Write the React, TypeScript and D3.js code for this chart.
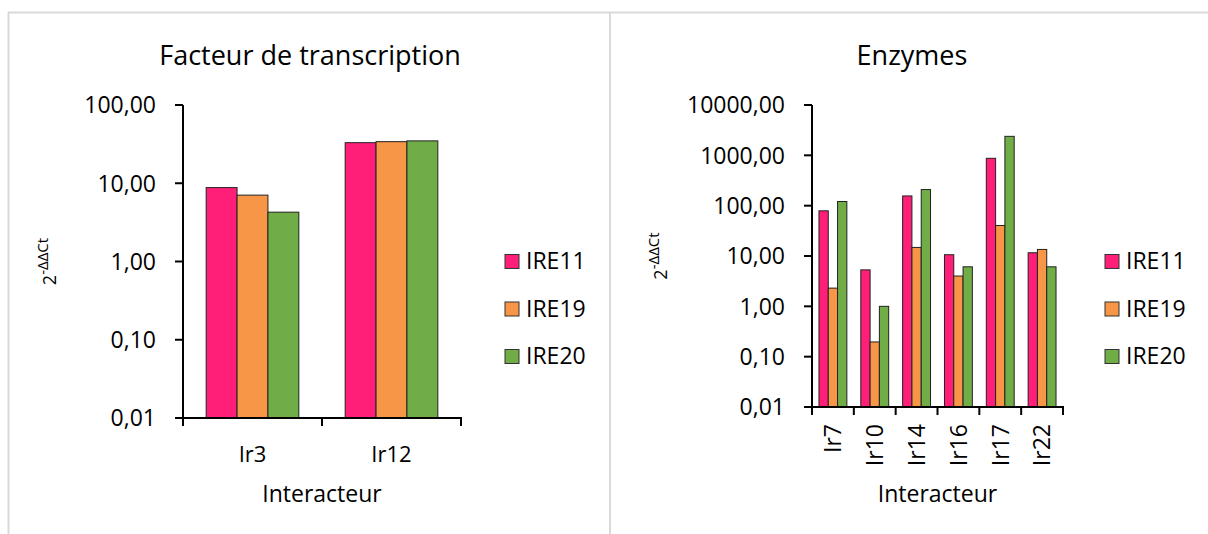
import React from 'react';
import * as d3 from 'd3';

// Series / categories
const seriesNames = ['IRE11', 'IRE19', 'IRE20'];
const seriesColors = ['#FF1F78', '#F79646', '#70AD47'];

const tfCategories = ['Ir3', 'Ir12'];
const tfIRE11 = [8.8, 33.0];
const tfIRE19 = [7.05, 34.0];
const tfIRE20 = [4.27, 34.8];
const tfTicks = [0.01, 0.1, 1, 10, 100];

const enzCategories = ['Ir7', 'Ir10', 'Ir14', 'Ir16', 'Ir17', 'Ir22'];
const enzIRE11 = [79, 5.3, 156, 10.6, 873, 11.6];
const enzIRE19 = [2.3, 0.196, 14.8, 4.0, 40.4, 13.5];
const enzIRE20 = [121, 1.0, 209, 6.1, 2384, 6.1];
const enzTicks = [0.01, 0.1, 1, 10, 100, 1000, 10000];

const FONT = '"Open Sans", sans-serif';
const fmt = (v: number) => d3.format('.2f')(v).replace('.', ',');

interface PanelProps {
  title: string;
  titleX: number;
  categories: string[];
  values: number[][];
  ticks: number[];
  x0: number;
  x1: number;
  yTop: number;
  yBottom: number;
  rotateLabels: boolean;
  yTitleX: number;
  legendX: number;
}

function Panel(p: PanelProps) {
  const y = d3.scaleLog().domain([p.ticks[0], p.ticks[p.ticks.length - 1]]).range([p.yBottom, p.yTop]);
  const x = d3.scaleBand().domain(p.categories).range([p.x0, p.x1]).padding(0);
  const xs = d3.scaleBand().domain(seriesNames).range([0, x.bandwidth()]).paddingInner(0).paddingOuter(0.75);
  const midX = (p.x0 + p.x1) / 2;
  const midY = (p.yTop + p.yBottom) / 2;

  return (
    <g fontFamily={FONT} fill="#000">
      <text x={p.titleX} y={65} textAnchor="middle" fontSize={27}>{p.title}</text>

      {/* bars */}
      {p.categories.map((c, ci) =>
        seriesNames.map((s, si) => {
          const v = p.values[si][ci];
          const top = y(v);
          return (
            <rect key={c + s} x={x(c)! + xs(s)!} y={top} width={xs.bandwidth()} height={p.yBottom - top}
              fill={seriesColors[si]} stroke="#222" strokeWidth={1} />
          );
        })
      )}

      {/* y axis */}
      <line x1={p.x0} x2={p.x0} y1={p.yTop} y2={p.yBottom} stroke="#000" strokeWidth={2} />
      {p.ticks.map(t => (
        <g key={t}>
          <line x1={p.x0 - 8} x2={p.x0} y1={y(t)} y2={y(t)} stroke="#000" strokeWidth={2} />
          <text x={p.x0 - 27} y={y(t)} dy="0.36em" textAnchor="end" fontSize={23}>{fmt(t)}</text>
        </g>
      ))}

      {/* x axis */}
      <line x1={p.x0 - 8} x2={p.x1 + 1} y1={p.yBottom} y2={p.yBottom} stroke="#000" strokeWidth={2} />
      {[...p.categories.map(c => x(c)!), p.x1].map((tx, i) => (
        <line key={i} x1={tx} x2={tx} y1={p.yBottom} y2={p.yBottom + 8} stroke="#000" strokeWidth={2} />
      ))}
      {p.categories.map(c => {
        const cx = x(c)! + x.bandwidth() / 2;
        return p.rotateLabels ? (
          <text key={c} transform={`translate(${cx + 8.3},424) rotate(-90)`} textAnchor="end" fontSize={23}>{c}</text>
        ) : (
          <text key={c} x={cx} y={462} textAnchor="middle" fontSize={22}>{c}</text>
        );
      })}
      <text x={midX} y={502} textAnchor="middle" fontSize={23}>Interacteur</text>

      {/* y title */}
      <text transform={`translate(${p.yTitleX},${midY}) rotate(-90)`} textAnchor="middle" fontSize={18}>
        2<tspan fontSize={15} dy="-0.55em">-ΔΔCt</tspan>
      </text>

      {/* legend */}
      {seriesNames.map((s, i) => {
        const base = 269 + i * 47.5;
        return (
          <g key={s}>
            <rect x={p.legendX} y={base - 14.5} width={14} height={14} fill={seriesColors[i]} stroke="#333" strokeWidth={1} />
            <text x={p.legendX + 21} y={base} fontSize={23}>{s}</text>
          </g>
        );
      })}
    </g>
  );
}

export default function App() {
  return (
    <svg width={1208} height={534} style={{ position: 'absolute', left: 0, top: 0, background: '#fff' }}>
      <rect x={0} y={0} width={1208} height={534} fill="#fff" />
      {/* panel frames */}
      <line x1={8} x2={1208} y1={12.5} y2={12.5} stroke="#d9d9d9" strokeWidth={2} />
      <line x1={8.5} x2={8.5} y1={12} y2={534} stroke="#d9d9d9" strokeWidth={2} />
      <line x1={610} x2={610} y1={12} y2={534} stroke="#d9d9d9" strokeWidth={2} />

      <Panel title="Facteur de transcription" titleX={310} categories={tfCategories}
        values={[tfIRE11, tfIRE19, tfIRE20]} ticks={tfTicks}
        x0={183} x1={461} yTop={105} yBottom={418} rotateLabels={false} yTitleX={56} legendX={505} />
      <Panel title="Enzymes" titleX={912} categories={enzCategories}
        values={[enzIRE11, enzIRE19, enzIRE20]} ticks={enzTicks}
        x0={812} x1={1063} yTop={105} yBottom={407} rotateLabels={true} yTitleX={667} legendX={1105} />
    </svg>
  );
}
